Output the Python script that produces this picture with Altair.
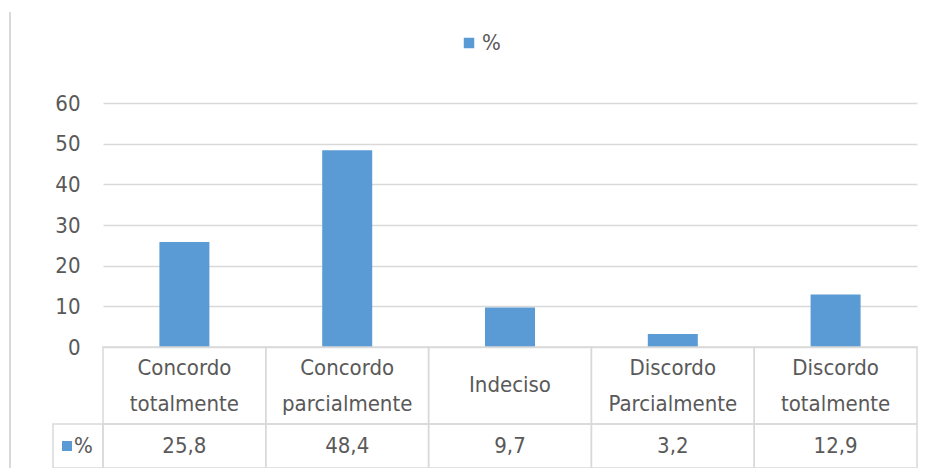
import altair as alt
import pandas as pd

categories = ["Concordo totalmente", "Concordo parcialmente", "Indeciso",
              "Discordo Parcialmente", "Discordo totalmente"]
values = [25.8, 48.4, 9.7, 3.2, 12.9]
series_name = "%"
y_ticks = [0, 10, 20, 30, 40, 50, 60]

FONT = "DejaVu Sans Condensed, sans-serif"
TXT = "#595959"
GRID = "#D9D9D9"
BAR = "#5B9BD5"
FS = 22

W, H = 814, 244
ROW1 = 77
ROW2 = 44
LEFTCELL = 50

df = pd.DataFrame({
    "cat": categories,
    "val": values,
    "label": [f"{v:.1f}".replace(".", ",") for v in values],
    "series": [series_name] * len(values),
})
one = pd.DataFrame({"k": [series_name]})

x = alt.X("cat:N", sort=categories,
          scale=alt.Scale(paddingInner=0, paddingOuter=0), axis=None)
y = alt.Y("val:Q", scale=alt.Scale(domain=[0, 60]),
          axis=alt.Axis(values=y_ticks, domain=False, ticks=False, labelPadding=23,
                        labelFontSize=FS, labelFont=FONT, labelColor=TXT,
                        gridColor=GRID, gridWidth=1.5, title=None))

bars = alt.Chart(df).mark_bar(width=50).encode(
    x=x, y=y,
    color=alt.Color("series:N", scale=alt.Scale(range=[BAR]),
                    legend=alt.Legend(orient="none", legendX=355, legendY=-71,
                                      title=None, symbolType="square", symbolSize=110,
                                      labelFontSize=FS,
                                      labelFont=FONT, labelColor=TXT, padding=0,
                                      labelOffset=2)),
)

# table cells (category row and value row), full band width
cells_top = alt.Chart(df).mark_rect(fill=None, stroke=GRID, strokeWidth=1.5).encode(
    x=x, y=alt.value(H), y2=alt.value(H + ROW1))
cells_bot = alt.Chart(df).mark_rect(fill=None, stroke=GRID, strokeWidth=1.5).encode(
    x=x, y=alt.value(H + ROW1), y2=alt.value(H + ROW1 + ROW2))
key_cell = alt.Chart(one).mark_rect(fill=None, stroke=GRID, strokeWidth=1.5).encode(
    x=alt.value(-LEFTCELL), x2=alt.value(0),
    y=alt.value(H + ROW1), y2=alt.value(H + ROW1 + ROW2))

two_line = "indexof(datum.cat, ' ') >= 0"
cat_text2 = alt.Chart(df).transform_filter(two_line).mark_text(
    lineBreak=" ", fontSize=FS, lineHeight=36, font=FONT, color=TXT,
    baseline="middle").encode(x=x, y=alt.value(H + 21), text="cat:N")
cat_text1 = alt.Chart(df).transform_filter("!(" + two_line + ")").mark_text(
    fontSize=FS, font=FONT, color=TXT, baseline="middle").encode(
    x=x, y=alt.value(H + 38), text="cat:N")

val_text = alt.Chart(df).mark_text(fontSize=FS, font=FONT, color=TXT,
                                   baseline="middle").encode(
    x=x, y=alt.value(H + ROW1 + ROW2 / 2), text="label:N")

key_sq = alt.Chart(one).mark_point(shape="square", size=100, filled=True,
                                   color=BAR, opacity=1).encode(
    x=alt.value(-36), y=alt.value(H + ROW1 + ROW2 / 2))
key_txt = alt.Chart(one).mark_text(fontSize=FS, font=FONT, color=TXT,
                                   align="left", baseline="middle").encode(
    x=alt.value(-29), y=alt.value(H + ROW1 + ROW2 / 2), text="k:N")

border = alt.Chart(one).mark_rule(color=GRID, strokeWidth=2).encode(
    x=alt.value(-93), y=alt.value(-91), y2=alt.value(H + 121))

chart = alt.layer(border, bars, cells_top, cells_bot, key_cell,
                  cat_text2, cat_text1, val_text, key_sq, key_txt).properties(
    width=W, height=H,
    autosize=alt.AutoSizeParams(type="none"),
    padding={"left": 95, "top": 95, "right": 6, "bottom": 121},
).configure_view(stroke=None)

chart.save("out.html", embed_options={"renderer": "svg", "actions": False})
